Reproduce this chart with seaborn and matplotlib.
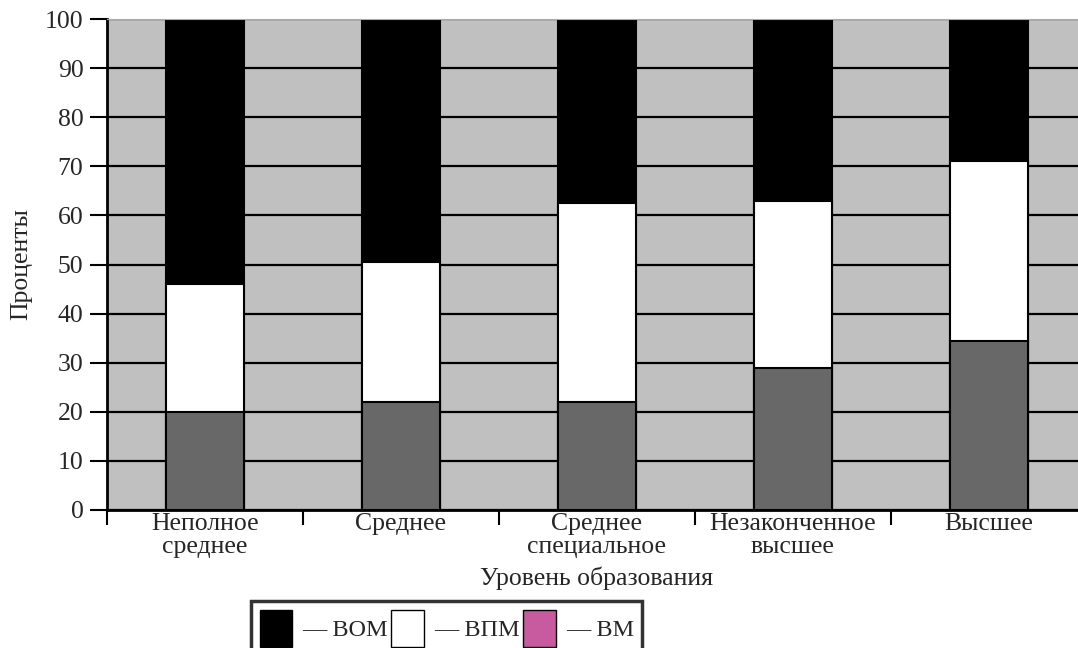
import numpy as np
import pandas as pd
import matplotlib
matplotlib.use("Agg")
import matplotlib.pyplot as plt
import matplotlib.patches as mpatches
import seaborn as sns

# данные (проценты)
kategorie = ["Неполное\nсреднее", "Среднее", "Среднее\nспециальное",
             "Незаконченное\nвысшее", "Высшее"]
bm = [20, 22, 22, 29, 34.5]
vpm = [26, 28.5, 40.5, 34, 36.5]
vom = [54, 49.5, 37.5, 37, 29]
legenda = ["— ВОМ", "— ВПМ", "— ВМ"]

sns.set_style("ticks")
plt.rcParams['font.family'] = ['Liberation Serif', 'DejaVu Serif']
plt.rcParams['font.size'] = 18.5

df = pd.DataFrame({"kat": kategorie, "bm": bm, "vpm": vpm, "vom": vom})
df["do_vpm"] = df["bm"] + df["vpm"]
df["razem"] = df["do_vpm"] + df["vom"]

fig = plt.figure(figsize=(10.78, 6.48), dpi=100)
ax = fig.add_axes([107/1078, 138/648, 980/1078, 491/648])
ax.set_facecolor("#c0c0c0")

sns.barplot(data=df, x="kat", y="razem", color="black", saturation=1,
            edgecolor="black", linewidth=1.5, width=0.4, ax=ax)
sns.barplot(data=df, x="kat", y="do_vpm", color="white", saturation=1,
            edgecolor="black", linewidth=1.5, width=0.4, ax=ax)
sns.barplot(data=df, x="kat", y="bm", color="#686868", saturation=1,
            edgecolor="black", linewidth=1.5, width=0.4, ax=ax)

ax.set_axisbelow(True)
ax.yaxis.grid(True, color="black", linewidth=1.6)
ax.set_ylim(0, 100)
ax.set_xlim(-0.5, 4.5)
ax.set_yticks(np.arange(0, 101, 10))
ax.tick_params(axis="y", length=12, width=1.5, color="black", pad=5)

# kreski miedzy kategoriami, podpisy na srodku
ax.set_xticks(np.arange(-0.5, 5, 1))
ax.set_xticklabels([""] * 6)
ax.set_xticks(np.arange(5), minor=True)
ax.set_xticklabels(kategorie, minor=True, linespacing=1.1)
ax.tick_params(axis="x", which="major", length=11, width=1.5, color="black")
ax.tick_params(axis="x", which="minor", length=0, pad=2)

ax.spines["left"].set_linewidth(2)
ax.spines["left"].set_color("black")
ax.spines["bottom"].set_linewidth(2)
ax.spines["bottom"].set_color("black")
ax.spines["top"].set_color("#aaaaaa")
ax.spines["right"].set_visible(False)

ax.set_xlabel("Уровень образования", labelpad=6)
ax.set_ylabel("Проценты", labelpad=9)

uchwyty = [mpatches.Patch(facecolor="black", edgecolor="black"),
           mpatches.Patch(facecolor="white", edgecolor="black"),
           mpatches.Patch(facecolor="#c85aa0", edgecolor="black")]
leg = fig.legend(uchwyty, legenda, loc="upper left", ncol=3,
                 bbox_to_anchor=(251/1078, 1 - 601/648), frameon=True,
                 fancybox=False, handlelength=1.35, handleheight=2.0,
                 handletextpad=0.4, columnspacing=0.15, borderpad=0.35,
                 borderaxespad=0, fontsize=17.5)
leg.get_frame().set_edgecolor("black")
leg.get_frame().set_linewidth(2.5)

plt.savefig("out.png", dpi=100)
